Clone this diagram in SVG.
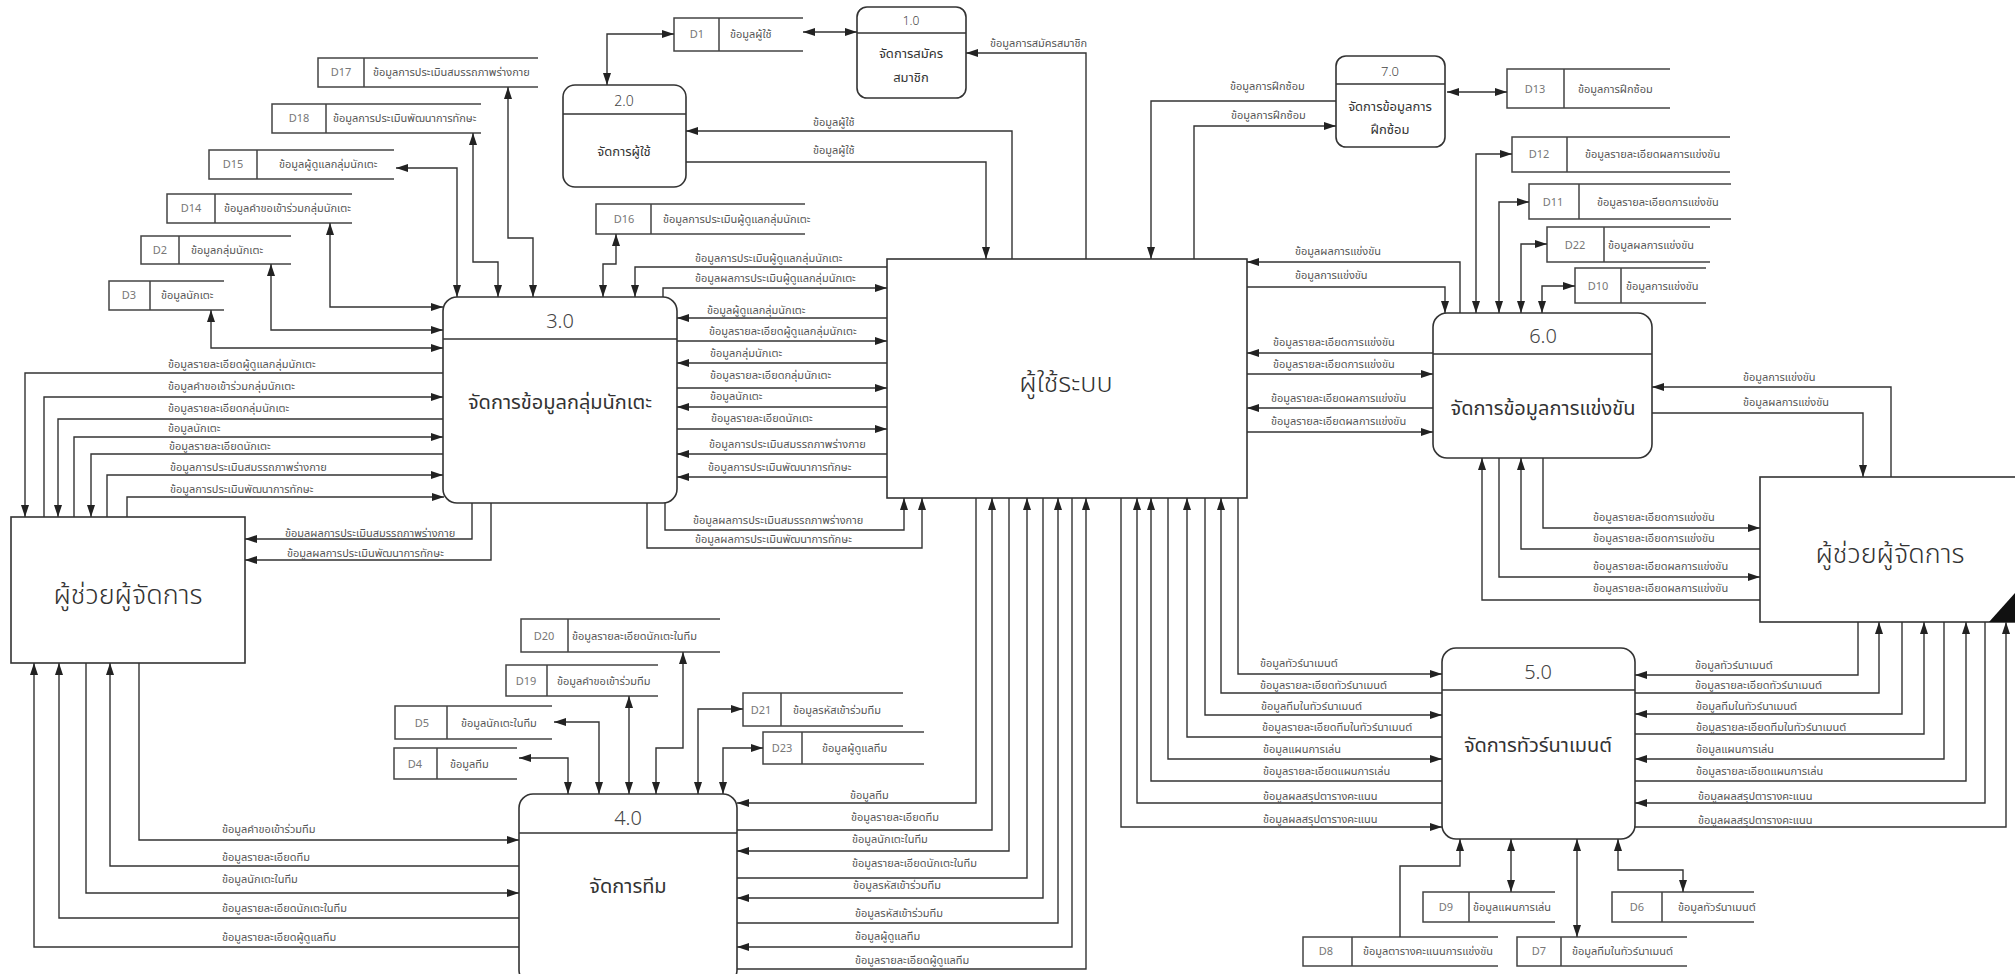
<svg xmlns="http://www.w3.org/2000/svg" width="2015" height="974" viewBox="0 0 2015 974">
<style>
  text { font-family: "Noto Sans Thai", "Noto Sans", "DejaVu Sans", sans-serif; }
  .bx { fill: #fff; stroke: #333; stroke-width: 1.6; }
  .hd { stroke: #333; stroke-width: 1.4; }
  .ds { fill: none; stroke: #444; stroke-width: 1.5; }
  .c path { fill: none; stroke: #333; stroke-width: 1.4; marker-end: url(#ah); }
  .c path.b { marker-start: url(#ah); }
  .lb { font-size: 11px; fill: #555; }
  .sid { font-size: 11px; fill: #777; text-anchor: middle; }
  .slb { font-size: 11px; fill: #555; }
  .pn { font-size: 20px; fill: #444; text-anchor: middle; font-weight: 300; }
  .pns { font-size: 12px; fill: #444; text-anchor: middle; font-weight: 300; }
  .pt { font-size: 20px; fill: #333; text-anchor: middle; }
  .pts { font-size: 13px; fill: #333; text-anchor: middle; }
  .et { font-size: 27px; fill: #333; text-anchor: middle; font-weight: 300; }
</style>
<defs>
  <marker id="ah" viewBox="0 0 12 8" refX="12" refY="4" markerWidth="12" markerHeight="8" markerUnits="userSpaceOnUse" orient="auto-start-reverse">
    <path d="M0,0 L12,4 L0,8 z" fill="#222"/>
  </marker>
</defs>
<rect width="2015" height="974" fill="#fff"/>

<!-- external entities -->
<g id="user">
  <rect class="bx" x="887" y="259" width="360" height="239"/>
  <text class="et" x="1066" y="392">ผู้ใช้ระบบ</text>
</g>
<g id="assistant-left">
  <rect class="bx" x="11" y="517" width="234" height="146"/>
  <text class="et" x="128" y="604">ผู้ช่วยผู้จัดการ</text>
</g>
<g id="assistant-right">
  <rect class="bx" x="1760" y="477" width="262" height="145"/>
  <text class="et" x="1890" y="563">ผู้ช่วยผู้จัดการ</text>
  <polygon points="1989,622 2015,622 2015,593" fill="#111"/>
</g>

<!-- processes -->
<g id="p1">
  <rect class="bx" x="857" y="7" width="109" height="91" rx="10"/>
  <line class="hd" x1="857" y1="33" x2="966" y2="33"/>
  <text class="pns" x="911" y="25">1.0</text>
  <text class="pts" x="911" y="58">จัดการสมัคร</text>
  <text class="pts" x="911" y="82">สมาชิก</text>
</g>
<g id="p2">
  <rect class="bx" x="563" y="85" width="123" height="102" rx="12"/>
  <line class="hd" x1="563" y1="114" x2="686" y2="114"/>
  <text class="pns" x="624" y="106" style="font-size:14px">2.0</text>
  <text class="pts" x="624" y="156">จัดการผู้ใช้</text>
</g>
<g id="p3">
  <rect class="bx" x="443" y="297" width="234" height="206" rx="14"/>
  <line class="hd" x1="443" y1="339" x2="677" y2="339"/>
  <text class="pn" x="560" y="328">3.0</text>
  <text class="pt" x="560" y="409">จัดการข้อมูลกลุ่มนักเตะ</text>
</g>
<g id="p4">
  <rect class="bx" x="519" y="794" width="218" height="190" rx="14"/>
  <line class="hd" x1="519" y1="833" x2="737" y2="833"/>
  <text class="pn" x="628" y="825">4.0</text>
  <text class="pt" x="628" y="893">จัดการทีม</text>
</g>
<g id="p5">
  <rect class="bx" x="1442" y="648" width="193" height="191" rx="14"/>
  <line class="hd" x1="1442" y1="690" x2="1635" y2="690"/>
  <text class="pn" x="1538" y="679">5.0</text>
  <text class="pt" x="1538" y="752">จัดการทัวร์นาเมนต์</text>
</g>
<g id="p6">
  <rect class="bx" x="1433" y="313" width="219" height="145" rx="14"/>
  <line class="hd" x1="1433" y1="354" x2="1652" y2="354"/>
  <text class="pn" x="1543" y="343">6.0</text>
  <text class="pt" x="1543" y="415">จัดการข้อมูลการแข่งขัน</text>
</g>
<g id="p7">
  <rect class="bx" x="1336" y="56" width="109" height="91" rx="10"/>
  <line class="hd" x1="1336" y1="84" x2="1445" y2="84"/>
  <text class="pns" x="1390" y="76" style="font-size:13px">7.0</text>
  <text class="pts" x="1390" y="111">จัดการข้อมูลการ</text>
  <text class="pts" x="1390" y="134">ฝึกซ้อม</text>
</g>

<!-- data stores -->
<g id="d1"><path class="ds" d="M803,18 H674 V51 H803 M719,18 V51"/><text class="sid" x="697" y="38">D1</text><text class="slb" x="730" y="38">ข้อมูลผู้ใช้</text></g>
<g id="d17"><path class="ds" d="M538,58 H318 V87 H538 M364,58 V87"/><text class="sid" x="341" y="76">D17</text><text class="slb" x="373" y="76">ข้อมูลการประเมินสมรรถภาพร่างกาย</text></g>
<g id="d18"><path class="ds" d="M481,104 H272 V133 H481 M326,104 V133"/><text class="sid" x="299" y="122">D18</text><text class="slb" x="333" y="122">ข้อมูลการประเมินพัฒนาการทักษะ</text></g>
<g id="d15"><path class="ds" d="M394,150 H209 V179 H394 M257,150 V179"/><text class="sid" x="233" y="168">D15</text><text class="slb" x="279" y="168">ข้อมูลผู้ดูแลกลุ่มนักเตะ</text></g>
<g id="d14"><path class="ds" d="M352,194 H167 V223 H352 M215,194 V223"/><text class="sid" x="191" y="212">D14</text><text class="slb" x="224" y="212">ข้อมูลคำขอเข้าร่วมกลุ่มนักเตะ</text></g>
<g id="d2"><path class="ds" d="M291,236 H141 V264 H291 M179,236 V264"/><text class="sid" x="160" y="254">D2</text><text class="slb" x="191" y="254">ข้อมูลกลุ่มนักเตะ</text></g>
<g id="d3"><path class="ds" d="M224,281 H109 V310 H224 M150,281 V310"/><text class="sid" x="129" y="299">D3</text><text class="slb" x="161" y="299">ข้อมูลนักเตะ</text></g>
<g id="d16"><path class="ds" d="M805,204 H596 V234 H805 M651,204 V234"/><text class="sid" x="624" y="223">D16</text><text class="slb" x="663" y="223">ข้อมูลการประเมินผู้ดูแลกลุ่มนักเตะ</text></g>
<g id="d13"><path class="ds" d="M1670,69 H1507 V108 H1670 M1564,69 V108"/><text class="sid" x="1535" y="93">D13</text><text class="slb" x="1578" y="93">ข้อมูลการฝึกซ้อม</text></g>
<g id="d12"><path class="ds" d="M1730,137 H1512 V172 H1730 M1567,137 V172"/><text class="sid" x="1539" y="158">D12</text><text class="slb" x="1585" y="158">ข้อมูลรายละเอียดผลการแข่งขัน</text></g>
<g id="d11"><path class="ds" d="M1731,184 H1529 V219 H1731 M1579,184 V219"/><text class="sid" x="1553" y="206">D11</text><text class="slb" x="1597" y="206">ข้อมูลรายละเอียดการแข่งขัน</text></g>
<g id="d22"><path class="ds" d="M1710,227 H1547 V262 H1710 M1604,227 V262"/><text class="sid" x="1575" y="249">D22</text><text class="slb" x="1608" y="249">ข้อมูลผลการแข่งขัน</text></g>
<g id="d10"><path class="ds" d="M1706,268 H1575 V303 H1706 M1621,268 V303"/><text class="sid" x="1598" y="290">D10</text><text class="slb" x="1626" y="290">ข้อมูลการแข่งขัน</text></g>
<g id="d20"><path class="ds" d="M720,619 H521 V652 H720 M568,619 V652"/><text class="sid" x="544" y="640">D20</text><text class="slb" x="572" y="640">ข้อมูลรายละเอียดนักเตะในทีม</text></g>
<g id="d19"><path class="ds" d="M658,665 H506 V696 H658 M547,665 V696"/><text class="sid" x="526" y="685">D19</text><text class="slb" x="557" y="685">ข้อมูลคำขอเข้าร่วมทีม</text></g>
<g id="d5"><path class="ds" d="M552,706 H395 V739 H552 M447,706 V739"/><text class="sid" x="422" y="727">D5</text><text class="slb" x="461" y="727">ข้อมูลนักเตะในทีม</text></g>
<g id="d4"><path class="ds" d="M517,748 H394 V779 H517 M437,748 V779"/><text class="sid" x="415" y="768">D4</text><text class="slb" x="450" y="768">ข้อมูลทีม</text></g>
<g id="d21"><path class="ds" d="M903,693 H743 V726 H903 M781,693 V726"/><text class="sid" x="761" y="714">D21</text><text class="slb" x="793" y="714">ข้อมูลรหัสเข้าร่วมทีม</text></g>
<g id="d23"><path class="ds" d="M924,732 H763 V764 H924 M802,732 V764"/><text class="sid" x="782" y="752">D23</text><text class="slb" x="822" y="752">ข้อมูลผู้ดูแลทีม</text></g>
<g id="d9"><path class="ds" d="M1555,892 H1423 V922 H1555 M1469,892 V922"/><text class="sid" x="1446" y="911">D9</text><text class="slb" x="1473" y="911">ข้อมูลแผนการเล่น</text></g>
<g id="d8"><path class="ds" d="M1498,937 H1303 V966 H1498 M1352,937 V966"/><text class="sid" x="1326" y="955">D8</text><text class="slb" x="1363" y="955">ข้อมูลตารางคะแนนการแข่งขัน</text></g>
<g id="d7"><path class="ds" d="M1687,937 H1517 V966 H1687 M1561,937 V966"/><text class="sid" x="1539" y="955">D7</text><text class="slb" x="1572" y="955">ข้อมูลทีมในทัวร์นาเมนต์</text></g>
<g id="d6"><path class="ds" d="M1754,892 H1612 V922 H1754 M1662,892 V922"/><text class="sid" x="1637" y="911">D6</text><text class="slb" x="1678" y="911">ข้อมูลทัวร์นาเมนต์</text></g>

<!-- data flows -->
<g id="connectors" class="c">
  <!-- 1.0 / 2.0 / 7.0 -->
  <path class="b" d="M674,34 H607 V85"/>
  <path class="b" d="M803,32 H857"/>
  <path d="M1086,259 V53 H966"/>
  <path d="M1012,259 V131 H686"/>
  <path d="M686,162 H986 V259"/>
  <path d="M1336,101 H1151 V259"/>
  <path d="M1194,259 V126 H1336"/>
  <path class="b" d="M1447,92 H1507"/>

  <!-- 6.0 -->
  <path d="M1460,313 V262 H1247"/>
  <path d="M1247,287 H1445 V313"/>
  <path class="b" d="M1476,313 V154 H1512"/>
  <path class="b" d="M1499,313 V202 H1529"/>
  <path class="b" d="M1521,313 V244 H1547"/>
  <path class="b" d="M1542,313 V286 H1575"/>
  <path d="M1433,353 H1247"/>
  <path d="M1247,374 H1433"/>
  <path d="M1433,408 H1247"/>
  <path d="M1247,432 H1433"/>
  <path d="M1891,477 V387 H1652"/>
  <path d="M1652,413 H1863 V477"/>
  <path d="M1543,458 V528 H1760"/>
  <path d="M1760,549 H1521 V458"/>
  <path d="M1499,458 V577 H1760"/>
  <path d="M1760,600 H1482 V458"/>

  <!-- 3.0 stores -->
  <path class="b" d="M508,87 V238 H533 V297"/>
  <path class="b" d="M473,133 V262 H498 V297"/>
  <path class="b" d="M396,168 H457 V297"/>
  <path class="b" d="M330,223 V307 H443"/>
  <path class="b" d="M271,264 V330 H443"/>
  <path class="b" d="M211,310 V348 H443"/>
  <path class="b" d="M616,234 V264 H603 V297"/>

  <!-- 3.0 and user -->
  <path d="M887,267 H635 V297"/>
  <path d="M663,297 V288 H887"/>
  <path d="M887,318 H677"/>
  <path d="M677,341 H887"/>
  <path d="M887,363 H677"/>
  <path d="M677,388 H887"/>
  <path d="M887,407 H677"/>
  <path d="M677,429 H887"/>
  <path d="M887,454 H677"/>
  <path d="M887,477 H677"/>
  <path d="M665,503 V530 H904 V498"/>
  <path d="M647,503 V548 H922 V498"/>

  <!-- 3.0 and assistant -->
  <path d="M443,373 H25 V517"/>
  <path d="M44,517 V397 H443"/>
  <path d="M443,419 H58 V517"/>
  <path d="M74,517 V437 H443"/>
  <path d="M443,454 H91 V517"/>
  <path d="M107,517 V475 H443"/>
  <path d="M127,517 V497 H444"/>
  <path d="M472,503 V539 H245"/>
  <path d="M491,503 V560 H245"/>

  <!-- 4.0 and assistant -->
  <path d="M139,663 V840 H519"/>
  <path d="M519,866 H110 V663"/>
  <path d="M86,663 V893 H519"/>
  <path d="M519,918 H59 V663"/>
  <path d="M519,947 H34 V663"/>

  <!-- 4.0 stores -->
  <path class="b" d="M519,758 H568 V794"/>
  <path class="b" d="M554,722 H599 V794"/>
  <path class="b" d="M629,696 V794"/>
  <path class="b" d="M683,652 V748 H656 V794"/>
  <path class="b" d="M698,794 V709 H743"/>
  <path class="b" d="M723,794 V748 H763"/>

  <!-- 4.0 and user -->
  <path d="M976,498 V803 H737"/>
  <path d="M737,830 H992 V498"/>
  <path d="M1009,498 V851 H737"/>
  <path d="M737,878 H1027 V498"/>
  <path d="M1043,498 V898 H737"/>
  <path d="M737,923 H1058 V498"/>
  <path d="M1072,498 V947 H737"/>
  <path d="M737,969 H1086 V498"/>

  <!-- 5.0 and user -->
  <path d="M1238,498 V674 H1442"/>
  <path d="M1442,693 H1221 V498"/>
  <path d="M1205,498 V715 H1442"/>
  <path d="M1442,737 H1187 V498"/>
  <path d="M1168,498 V759 H1442"/>
  <path d="M1442,781 H1151 V498"/>
  <path d="M1442,803 H1137 V498"/>
  <path d="M1121,498 V827 H1442"/>

  <!-- 5.0 and assistant -->
  <path d="M1858,622 V675 H1635"/>
  <path d="M1635,693 H1879 V622"/>
  <path d="M1902,622 V714 H1635"/>
  <path d="M1635,734 H1924 V622"/>
  <path d="M1944,622 V759 H1635"/>
  <path d="M1635,781 H1966 V622"/>
  <path d="M1985,622 V803 H1635"/>
  <path d="M1635,827 H2006 V622"/>

  <!-- 5.0 stores -->
  <path class="b" d="M1511,839 V892"/>
  <path d="M1400,937 V866 H1460 V839"/>
  <path class="b" d="M1577,839 V937"/>
  <path class="b" d="M1618,839 V870 H1683 V892"/>

  <!-- flow labels -->
  <g id="flow-labels">
    <text class="lb" x="990" y="47">ข้อมูลการสมัครสมาชิก</text>
    <text class="lb" x="813" y="126">ข้อมูลผู้ใช้</text>
    <text class="lb" x="813" y="154">ข้อมูลผู้ใช้</text>
    <text class="lb" x="1230" y="90">ข้อมูลการฝึกซ้อม</text>
    <text class="lb" x="1231" y="119">ข้อมูลการฝึกซ้อม</text>

    <text class="lb" x="1295" y="255">ข้อมูลผลการแข่งขัน</text>
    <text class="lb" x="1295" y="279">ข้อมูลการแข่งขัน</text>
    <text class="lb" x="1273" y="346">ข้อมูลรายละเอียดการแข่งขัน</text>
    <text class="lb" x="1273" y="368">ข้อมูลรายละเอียดการแข่งขัน</text>
    <text class="lb" x="1271" y="402">ข้อมูลรายละเอียดผลการแข่งขัน</text>
    <text class="lb" x="1271" y="425">ข้อมูลรายละเอียดผลการแข่งขัน</text>
    <text class="lb" x="1743" y="381">ข้อมูลการแข่งขัน</text>
    <text class="lb" x="1743" y="406">ข้อมูลผลการแข่งขัน</text>
    <text class="lb" x="1593" y="521">ข้อมูลรายละเอียดการแข่งขัน</text>
    <text class="lb" x="1593" y="542">ข้อมูลรายละเอียดการแข่งขัน</text>
    <text class="lb" x="1593" y="570">ข้อมูลรายละเอียดผลการแข่งขัน</text>
    <text class="lb" x="1593" y="592">ข้อมูลรายละเอียดผลการแข่งขัน</text>

    <text class="lb" x="695" y="262">ข้อมูลการประเมินผู้ดูแลกลุ่มนักเตะ</text>
    <text class="lb" x="695" y="282">ข้อมูลผลการประเมินผู้ดูแลกลุ่มนักเตะ</text>
    <text class="lb" x="707" y="314">ข้อมูลผู้ดูแลกลุ่มนักเตะ</text>
    <text class="lb" x="709" y="335">ข้อมูลรายละเอียดผู้ดูแลกลุ่มนักเตะ</text>
    <text class="lb" x="710" y="357">ข้อมูลกลุ่มนักเตะ</text>
    <text class="lb" x="710" y="379">ข้อมูลรายละเอียดกลุ่มนักเตะ</text>
    <text class="lb" x="710" y="400">ข้อมูลนักเตะ</text>
    <text class="lb" x="711" y="422">ข้อมูลรายละเอียดนักเตะ</text>
    <text class="lb" x="709" y="448">ข้อมูลการประเมินสมรรถภาพร่างกาย</text>
    <text class="lb" x="708" y="471">ข้อมูลการประเมินพัฒนาการทักษะ</text>
    <text class="lb" x="693" y="524">ข้อมูลผลการประเมินสมรรถภาพร่างกาย</text>
    <text class="lb" x="695" y="543">ข้อมูลผลการประเมินพัฒนาการทักษะ</text>

    <text class="lb" x="168" y="368">ข้อมูลรายละเอียดผู้ดูแลกลุ่มนักเตะ</text>
    <text class="lb" x="168" y="390">ข้อมูลคำขอเข้าร่วมกลุ่มนักเตะ</text>
    <text class="lb" x="168" y="412">ข้อมูลรายละเอียดกลุ่มนักเตะ</text>
    <text class="lb" x="168" y="432">ข้อมูลนักเตะ</text>
    <text class="lb" x="169" y="450">ข้อมูลรายละเอียดนักเตะ</text>
    <text class="lb" x="170" y="471">ข้อมูลการประเมินสมรรถภาพร่างกาย</text>
    <text class="lb" x="170" y="493">ข้อมูลการประเมินพัฒนาการทักษะ</text>
    <text class="lb" x="285" y="537">ข้อมูลผลการประเมินสมรรถภาพร่างกาย</text>
    <text class="lb" x="287" y="557">ข้อมูลผลการประเมินพัฒนาการทักษะ</text>

    <text class="lb" x="222" y="833">ข้อมูลคำขอเข้าร่วมทีม</text>
    <text class="lb" x="222" y="861">ข้อมูลรายละเอียดทีม</text>
    <text class="lb" x="222" y="883">ข้อมูลนักเตะในทีม</text>
    <text class="lb" x="222" y="912">ข้อมูลรายละเอียดนักเตะในทีม</text>
    <text class="lb" x="222" y="941">ข้อมูลรายละเอียดผู้ดูแลทีม</text>

    <text class="lb" x="850" y="799">ข้อมูลทีม</text>
    <text class="lb" x="851" y="821">ข้อมูลรายละเอียดทีม</text>
    <text class="lb" x="852" y="843">ข้อมูลนักเตะในทีม</text>
    <text class="lb" x="852" y="867">ข้อมูลรายละเอียดนักเตะในทีม</text>
    <text class="lb" x="853" y="889">ข้อมูลรหัสเข้าร่วมทีม</text>
    <text class="lb" x="855" y="917">ข้อมูลรหัสเข้าร่วมทีม</text>
    <text class="lb" x="855" y="940">ข้อมูลผู้ดูแลทีม</text>
    <text class="lb" x="855" y="964">ข้อมูลรายละเอียดผู้ดูแลทีม</text>

    <text class="lb" x="1260" y="667">ข้อมูลทัวร์นาเมนต์</text>
    <text class="lb" x="1260" y="689">ข้อมูลรายละเอียดทัวร์นาเมนต์</text>
    <text class="lb" x="1261" y="710">ข้อมูลทีมในทัวร์นาเมนต์</text>
    <text class="lb" x="1262" y="731">ข้อมูลรายละเอียดทีมในทัวร์นาเมนต์</text>
    <text class="lb" x="1263" y="753">ข้อมูลแผนการเล่น</text>
    <text class="lb" x="1263" y="775">ข้อมูลรายละเอียดแผนการเล่น</text>
    <text class="lb" x="1263" y="800">ข้อมูลผลสรุปตารางคะแนน</text>
    <text class="lb" x="1263" y="823">ข้อมูลผลสรุปตารางคะแนน</text>

    <text class="lb" x="1695" y="669">ข้อมูลทัวร์นาเมนต์</text>
    <text class="lb" x="1695" y="689">ข้อมูลรายละเอียดทัวร์นาเมนต์</text>
    <text class="lb" x="1696" y="710">ข้อมูลทีมในทัวร์นาเมนต์</text>
    <text class="lb" x="1696" y="731">ข้อมูลรายละเอียดทีมในทัวร์นาเมนต์</text>
    <text class="lb" x="1696" y="753">ข้อมูลแผนการเล่น</text>
    <text class="lb" x="1696" y="775">ข้อมูลรายละเอียดแผนการเล่น</text>
    <text class="lb" x="1698" y="800">ข้อมูลผลสรุปตารางคะแนน</text>
    <text class="lb" x="1698" y="824">ข้อมูลผลสรุปตารางคะแนน</text>
  </g>
</g>
</svg>
